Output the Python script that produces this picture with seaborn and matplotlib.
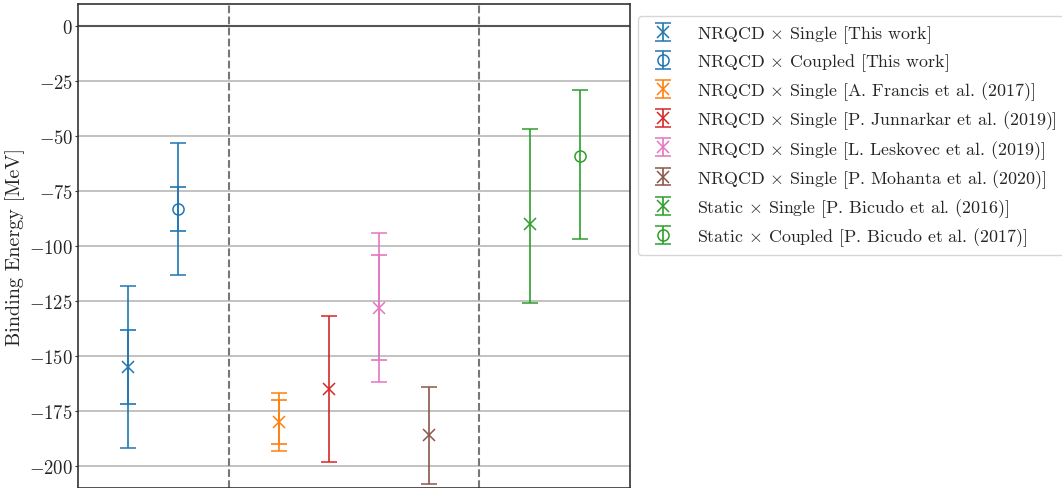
import matplotlib
matplotlib.use("Agg")
import matplotlib.pyplot as plt
import seaborn as sns

# data
labels = [
    r"NRQCD$\,\times\,$Single [This work]",
    r"NRQCD$\,\times\,$Coupled [This work]",
    r"NRQCD$\,\times\,$Single [A. Francis et al. (2017)]",
    r"NRQCD$\,\times\,$Single [P. Junnarkar et al. (2019)]",
    r"NRQCD$\,\times\,$Single [L. Leskovec et al. (2019)]",
    r"NRQCD$\,\times\,$Single [P. Mohanta et al. (2020)]",
    r"Static$\,\times\,$Single [P. Bicudo et al. (2016)]",
    r"Static$\,\times\,$Coupled [P. Bicudo et al. (2017)]",
]
xpos = [0, 1, 3, 4, 5, 6, 8, 9]
energy = [-155, -83, -180, -165, -128, -186, -90, -59]
err_lo = [37, 30, 13, 33, 34, 22, 36, 38]
err_hi = [37, 30, 13, 33, 34, 22, 43, 30]
stat_err = [17, 10, 10, None, 24, None, None, None]
markers = ["x", "o", "x", "x", "x", "x", "x", "o"]
color_idx = [0, 0, 1, 3, 6, 5, 2, 2]
separators = [2, 7]

sns.set_style("whitegrid")
plt.rcParams["font.family"] = "serif"
plt.rcParams["font.serif"] = ["cmr10"]
plt.rcParams["mathtext.fontset"] = "cm"
plt.rcParams["axes.formatter.use_mathtext"] = True

pal = sns.color_palette("tab10")

fig = plt.figure(figsize=(10.62, 4.89), dpi=100)
ax = fig.add_axes([78 / 1062, 0.0, (630 - 78) / 1062, 1 - 5 / 489])

for i in range(len(labels)):
    c = pal[color_idx[i]]
    mfc = "none" if markers[i] == "o" else c
    ax.errorbar(xpos[i], energy[i], yerr=[[err_lo[i]], [err_hi[i]]], fmt=markers[i],
                color=c, mfc=mfc, ms=8, mew=1.1, capsize=6, elinewidth=1.2,
                capthick=1.2, label=labels[i])
    if stat_err[i] is not None:
        ax.errorbar(xpos[i], energy[i], yerr=stat_err[i], fmt="none", color=c,
                    capsize=6, elinewidth=1.2, capthick=1.2)

ax.axhline(0, color="#555555", lw=1.5, zorder=1)
for s in separators:
    ax.axvline(s, color="#777777", ls="--", lw=1.5, zorder=1)

ax.set_xlim(-1, 10)
ax.set_ylim(-210, 10)
ax.set_xticks([])
ax.set_yticks(range(-200, 1, 25))
ax.xaxis.grid(False)
ax.yaxis.grid(True, color="#b8b8b8", lw=1.2)
ax.tick_params(axis="y", labelsize=13.5, length=2, pad=1.5, left=True, color="#333333")
ax.set_ylabel("Binding Energy [MeV]", fontsize=14.5, labelpad=3)
for sp in ax.spines.values():
    sp.set_color("#333333")
    sp.set_linewidth(1.2)

ax.legend(loc="upper left", bbox_to_anchor=(1.015, 0.975), fontsize=12.9,
          frameon=True, edgecolor="#cccccc", borderaxespad=0.0, handletextpad=0.9,
          labelspacing=0.36)

plt.savefig("out.png", dpi=100)
